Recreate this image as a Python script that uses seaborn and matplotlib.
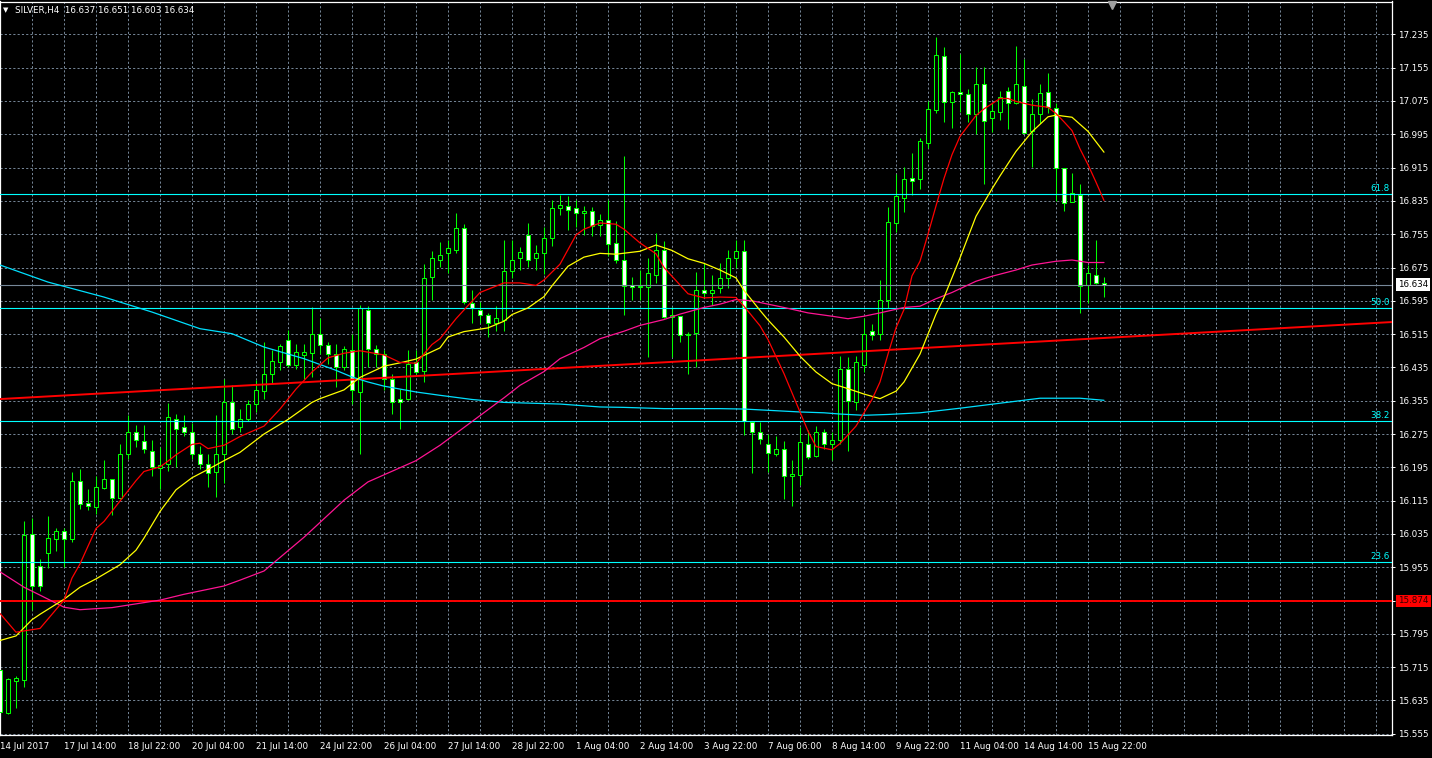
import numpy as np
import pandas as pd
import matplotlib
matplotlib.use("Agg")
import matplotlib.pyplot as plt
import seaborn as sns

# SILVER H4 candles, index 0 = 14 Jul 2017
opens = [15.707, 15.605, 15.682, 15.683, 16.034, 15.957, 15.990, 16.024, 16.042, 16.022,
         16.163, 16.110, 16.100, 16.146, 16.167, 16.122, 16.228, 16.280, 16.258, 16.234,
         16.194, 16.202, 16.312, 16.291, 16.280, 16.226, 16.204, 16.184, 16.228, 16.351,
         16.292, 16.311, 16.348, 16.379, 16.420, 16.448, 16.502, 16.442, 16.466, 16.470,
         16.515, 16.488, 16.468, 16.436, 16.478, 16.376, 16.574, 16.480, 16.468, 16.408,
         16.360, 16.360, 16.447, 16.427, 16.651, 16.694, 16.709, 16.718, 16.771, 16.590,
         16.574, 16.562, 16.542, 16.550, 16.666, 16.697, 16.753, 16.697, 16.711, 16.747,
         16.819, 16.822, 16.817, 16.806, 16.810, 16.777, 16.789, 16.733, 16.693, 16.633,
         16.627, 16.627, 16.658, 16.717, 16.556, 16.558, 16.512, 16.518, 16.620, 16.614,
         16.625, 16.649, 16.699, 16.714, 16.304, 16.280, 16.252, 16.228, 16.240, 16.174,
         16.176, 16.252, 16.222, 16.279, 16.252, 16.260, 16.430, 16.352, 16.440, 16.522,
         16.515, 16.596, 16.782, 16.843, 16.889, 16.887, 16.975, 17.053, 17.183, 17.073,
         17.096, 17.091, 17.043, 17.115, 17.033, 17.049, 17.100, 17.069, 17.112, 17.003,
         17.043, 17.096, 17.059, 16.913, 16.833, 16.849, 16.633, 16.658, 16.637]
highs = [15.712, 15.690, 15.693, 16.066, 16.074, 15.974, 16.078, 16.049, 16.049, 16.184,
         16.190, 16.144, 16.174, 16.212, 16.168, 16.252, 16.320, 16.296, 16.296, 16.260,
         16.244, 16.350, 16.324, 16.320, 16.302, 16.246, 16.226, 16.320, 16.406, 16.392,
         16.334, 16.356, 16.404, 16.496, 16.476, 16.492, 16.524, 16.492, 16.492, 16.580,
         16.553, 16.496, 16.492, 16.486, 16.516, 16.584, 16.582, 16.488, 16.476, 16.420,
         16.384, 16.478, 16.476, 16.683, 16.714, 16.737, 16.741, 16.807, 16.779, 16.620,
         16.592, 16.565, 16.582, 16.742, 16.742, 16.725, 16.783, 16.729, 16.773, 16.837,
         16.849, 16.846, 16.837, 16.822, 16.821, 16.803, 16.837, 16.787, 16.943, 16.653,
         16.670, 16.697, 16.757, 16.739, 16.580, 16.558, 16.520, 16.664, 16.685, 16.657,
         16.685, 16.717, 16.741, 16.741, 16.304, 16.304, 16.275, 16.270, 16.258, 16.212,
         16.292, 16.284, 16.294, 16.286, 16.280, 16.462, 16.460, 16.462, 16.553, 16.539,
         16.646, 16.821, 16.899, 16.917, 16.949, 16.987, 17.075, 17.229, 17.204, 17.099,
         17.188, 17.103, 17.156, 17.156, 17.071, 17.099, 17.109, 17.207, 17.175, 17.079,
         17.116, 17.143, 17.071, 16.913, 16.901, 16.875, 16.681, 16.742, 16.651]
lows = [15.599, 15.603, 15.616, 15.667, 15.853, 15.898, 15.952, 15.994, 15.956, 16.016,
        16.096, 16.092, 16.084, 16.144, 16.080, 16.118, 16.216, 16.244, 16.230, 16.174,
        16.142, 16.186, 16.196, 16.270, 16.214, 16.192, 16.148, 16.124, 16.158, 16.276,
        16.280, 16.307, 16.328, 16.358, 16.398, 16.428, 16.436, 16.432, 16.408, 16.411,
        16.468, 16.443, 16.387, 16.428, 16.348, 16.228, 16.436, 16.436, 16.380, 16.324,
        16.288, 16.356, 16.419, 16.400, 16.598, 16.677, 16.661, 16.710, 16.587, 16.541,
        16.541, 16.507, 16.523, 16.523, 16.649, 16.670, 16.677, 16.670, 16.659, 16.726,
        16.801, 16.766, 16.772, 16.753, 16.750, 16.750, 16.702, 16.686, 16.560, 16.597,
        16.597, 16.459, 16.638, 16.553, 16.459, 16.496, 16.420, 16.436, 16.604, 16.584,
        16.613, 16.625, 16.675, 16.272, 16.182, 16.252, 16.184, 16.223, 16.120, 16.102,
        16.152, 16.214, 16.220, 16.240, 16.212, 16.252, 16.234, 16.332, 16.424, 16.500,
        16.502, 16.577, 16.761, 16.809, 16.849, 16.863, 16.961, 17.047, 17.025, 17.009,
        17.049, 17.025, 16.995, 16.875, 17.001, 17.029, 17.008, 17.068, 16.997, 16.917,
        17.021, 17.045, 16.835, 16.811, 16.833, 16.565, 16.589, 16.635, 16.603]
closes = [15.607, 15.687, 15.689, 16.032, 15.909, 15.911, 16.026, 16.041, 16.024, 16.161,
          16.108, 16.103, 16.148, 16.168, 16.122, 16.228, 16.281, 16.260, 16.238, 16.195,
          16.200, 16.315, 16.288, 16.280, 16.228, 16.204, 16.182, 16.228, 16.351, 16.288,
          16.310, 16.348, 16.380, 16.420, 16.450, 16.486, 16.440, 16.471, 16.471, 16.515,
          16.488, 16.467, 16.435, 16.480, 16.380, 16.577, 16.480, 16.468, 16.408, 16.352,
          16.352, 16.444, 16.424, 16.649, 16.697, 16.706, 16.721, 16.769, 16.592, 16.577,
          16.562, 16.541, 16.553, 16.666, 16.694, 16.713, 16.693, 16.711, 16.747, 16.817,
          16.825, 16.814, 16.807, 16.810, 16.775, 16.789, 16.731, 16.694, 16.631, 16.627,
          16.630, 16.661, 16.717, 16.555, 16.560, 16.514, 16.516, 16.620, 16.613, 16.622,
          16.649, 16.699, 16.714, 16.307, 16.280, 16.262, 16.230, 16.238, 16.174, 16.178,
          16.255, 16.220, 16.280, 16.252, 16.260, 16.432, 16.355, 16.447, 16.516, 16.513,
          16.598, 16.785, 16.846, 16.887, 16.883, 16.979, 17.055, 17.185, 17.073, 17.096,
          17.091, 17.043, 17.117, 17.027, 17.051, 17.085, 17.069, 17.116, 16.999, 17.043,
          17.093, 17.060, 16.913, 16.831, 16.853, 16.630, 16.661, 16.637, 16.634]

time_labels = ["14 Jul 2017", "17 Jul 14:00", "18 Jul 22:00", "20 Jul 04:00", "21 Jul 14:00",
               "24 Jul 22:00", "26 Jul 04:00", "27 Jul 14:00", "28 Jul 22:00", "1 Aug 04:00",
               "2 Aug 14:00", "3 Aug 22:00", "7 Aug 06:00", "8 Aug 14:00", "9 Aug 22:00",
               "11 Aug 04:00", "14 Aug 14:00", "15 Aug 22:00"]

# moving averages (candle index, price)
red_ma_idx = [0, 2, 5, 8, 9, 10, 12, 13, 15, 17, 18, 20, 21, 22, 24, 25, 26, 28, 30, 33,
              35, 37, 39, 41, 43, 45, 48, 50, 52, 54, 55, 57, 60, 63, 65, 67, 68, 70, 72, 73,
              75, 77, 78, 80, 82, 83, 85, 86, 88, 90, 92, 93, 95, 96, 98, 100, 101, 102, 104, 105,
              107, 108, 109, 110, 111, 112, 113, 114, 115, 116, 117, 118, 119, 120, 122, 123, 125, 126, 127, 129,
              131, 132, 133, 134, 135, 136, 137, 138]
red_ma = [15.844, 15.799, 15.808, 15.876, 15.929, 15.963, 16.048, 16.065, 16.114, 16.163,
          16.185, 16.196, 16.210, 16.225, 16.250, 16.253, 16.240, 16.248, 16.269, 16.294,
          16.335, 16.383, 16.424, 16.458, 16.469, 16.475, 16.465, 16.447, 16.445, 16.490,
          16.504, 16.552, 16.615, 16.638, 16.638, 16.632, 16.645, 16.683, 16.753, 16.767,
          16.782, 16.779, 16.767, 16.734, 16.708, 16.675, 16.633, 16.612, 16.602, 16.604,
          16.603, 16.582, 16.535, 16.502, 16.420, 16.328, 16.282, 16.245, 16.237, 16.252,
          16.294, 16.326, 16.358, 16.400, 16.467, 16.530, 16.574, 16.655, 16.690, 16.755,
          16.823, 16.889, 16.946, 16.990, 17.040, 17.056, 17.081, 17.081, 17.074, 17.065,
          17.060, 17.045, 17.025, 17.004, 16.960, 16.922, 16.880, 16.836]

yel_idx = [0, 2, 4, 5, 8, 10, 12, 15, 17, 18, 20, 22, 24, 26, 28, 30, 33, 36, 39, 40,
           43, 45, 48, 50, 52, 53, 55, 56, 58, 61, 63, 64, 66, 68, 69, 71, 73, 75, 77, 80,
           82, 84, 86, 88, 90, 92, 93, 95, 96, 98, 100, 102, 104, 106, 108, 110, 112, 113, 115, 117,
           118, 120, 122, 124, 125, 127, 129, 131, 132, 134, 136, 138]
yel_ma = [15.779, 15.790, 15.829, 15.842, 15.878, 15.907, 15.927, 15.961, 15.996, 16.025,
          16.089, 16.141, 16.170, 16.190, 16.211, 16.231, 16.275, 16.310, 16.351, 16.360,
          16.381, 16.411, 16.438, 16.446, 16.455, 16.464, 16.482, 16.508, 16.521, 16.530,
          16.546, 16.562, 16.578, 16.605, 16.631, 16.678, 16.700, 16.709, 16.707, 16.714,
          16.729, 16.716, 16.696, 16.685, 16.669, 16.650, 16.620, 16.572, 16.549, 16.508,
          16.462, 16.424, 16.396, 16.384, 16.371, 16.360, 16.378, 16.400, 16.467, 16.563,
          16.603, 16.698, 16.798, 16.864, 16.895, 16.954, 17.001, 17.037, 17.041, 17.036,
          17.002, 16.952]

mag_idx = [0, 3, 5, 8, 10, 14, 18, 20, 23, 25, 28, 30, 33, 38, 43, 46, 48, 52, 55, 59,
           63, 65, 68, 70, 73, 75, 78, 80, 83, 85, 88, 90, 92, 94, 96, 98, 101, 104, 106, 108,
           110, 113, 115, 117, 119, 122, 124, 127, 129, 132, 134, 136, 138]
mag_ma = [15.944, 15.907, 15.888, 15.859, 15.853, 15.858, 15.870, 15.876, 15.890, 15.898,
          15.910, 15.924, 15.946, 16.027, 16.116, 16.160, 16.177, 16.211, 16.248, 16.305,
          16.362, 16.392, 16.425, 16.456, 16.483, 16.504, 16.522, 16.536, 16.550, 16.563,
          16.579, 16.587, 16.598, 16.595, 16.587, 16.579, 16.566, 16.558, 16.552, 16.558,
          16.566, 16.579, 16.582, 16.600, 16.615, 16.642, 16.654, 16.669, 16.681, 16.690,
          16.693, 16.687, 16.687]

cyan_idx = [0, 6, 13, 19, 25, 29, 33, 38, 42, 44, 46, 48, 52, 55, 59, 63, 70, 75, 78, 83,
            90, 93, 96, 100, 103, 105, 108, 111, 113, 115, 120, 125, 130, 135, 138]
cyan_ma = [16.681, 16.640, 16.604, 16.568, 16.528, 16.516, 16.484, 16.456, 16.428, 16.412,
           16.400, 16.390, 16.376, 16.368, 16.358, 16.351, 16.347, 16.340, 16.339, 16.336,
           16.336, 16.335, 16.332, 16.328, 16.326, 16.323, 16.320, 16.322, 16.324, 16.326,
           16.337, 16.349, 16.361, 16.361, 16.356]

trend_idx = [0, 174]
trend_val = [16.359, 16.544]

fib_levels = [16.851, 16.577, 16.306, 15.967]
fib_labels = ["61.8", "50.0", "38.2", "23.6"]
support_level = 15.874
last_price = 16.634

GREEN = "#00ff00"
GRID = "#778899"
FS = 6.3

sns.set_style("dark")
plt.rcParams["font.family"] = ["DejaVu Sans"]

fig = plt.figure(figsize=(14.32, 7.58), dpi=100, facecolor="black")
ax = fig.add_axes([0, 1 - 735 / 758, 1392 / 1432, 733.5 / 758])
ax.set_facecolor("black")

df = pd.DataFrame({"o": opens, "h": highs, "l": lows, "c": closes})
df["i"] = np.arange(len(df))
bull = df["c"] >= df["o"]

# grid
yticks = np.round(np.arange(15.555, 17.30, 0.08), 3)
for k in range(0, 175, 4):
    ax.axvline(k, color=GRID, lw=0.7, ls=(0, (2.2, 2.2)), zorder=0)
for v in list(yticks) + [17.315]:
    ax.axhline(v, color=GRID, lw=0.7, ls=(0, (2.2, 2.2)), zorder=0)

# candles
ax.vlines(df["i"], df["l"], df["h"], color=GREEN, lw=0.75, zorder=2)
ax.bar(df["i"], (df["c"] - df["o"]).abs().clip(lower=0.0008),
       bottom=df[["o", "c"]].min(axis=1), width=0.56,
       color=np.where(bull, "black", "white"), edgecolor=GREEN, linewidth=0.75, zorder=3)

# objects
for lvl, lab in zip(fib_levels, fib_labels):
    ax.axhline(lvl, color="#00ffff", lw=0.8, zorder=4)
    ax.text(173.75, lvl + 0.003, lab, color="#00ffff", fontsize=FS, ha="right", va="bottom", zorder=6)
ax.axhline(support_level, color="#ff0000", lw=1.4, zorder=4)
ax.axhline(last_price, color=GRID, lw=0.8, zorder=4)
ax.plot(trend_idx, trend_val, color="#ff0000", lw=1.4, zorder=4)

# indicators
sns.lineplot(x=cyan_idx, y=cyan_ma, ax=ax, color="#00e0ff", lw=0.9, zorder=5)
sns.lineplot(x=mag_idx, y=mag_ma, ax=ax, color="#ff1493", lw=0.9, zorder=5)
sns.lineplot(x=yel_idx, y=yel_ma, ax=ax, color="#ffff00", lw=0.9, zorder=5)
sns.lineplot(x=red_ma_idx, y=red_ma, ax=ax, color="#ff0000", lw=0.9, zorder=5)

ax.set_xlim(0, 174)
ax.set_ylim(15.552, 17.314)

ax.yaxis.tick_right()
ax.set_yticks(yticks)
ax.set_yticklabels([f"{v:.3f}" for v in yticks])
ax.set_xticks(np.arange(0, 8 * len(time_labels), 8))
ax.set_xticklabels(time_labels)
for lab in ax.get_xticklabels():
    lab.set_horizontalalignment("left")
ax.tick_params(axis="both", colors="white", labelsize=FS, length=3, width=0.7, pad=1.5)
ax.tick_params(axis="x", pad=2)
ax.tick_params(axis="y", length=2.5)
ax.set_xlabel("")
ax.set_ylabel("")
ax.grid(False)
for s in ax.spines.values():
    s.set_color("white")
    s.set_linewidth(0.9)

# price boxes on the scale
yax = ax.get_yaxis_transform()
ax.text(1.0045, last_price, f"{last_price:.3f}", transform=yax, fontsize=FS, color="black",
        ha="left", va="center", bbox=dict(boxstyle="square,pad=0.22", fc="white", ec="none"),
        clip_on=False, zorder=10)
ax.text(1.0045, support_level, f"{support_level:.3f}", transform=yax, fontsize=FS, color="#300000",
        ha="left", va="center", bbox=dict(boxstyle="square,pad=0.22", fc="#ff0000", ec="none"),
        clip_on=False, zorder=10)

# shift marker
ax.plot([139], [17.305], marker="v", color="#a0a0a0", ms=6, clip_on=False, zorder=10)

fig.text(3 / 1432, 1 - 10 / 758, "\u25bc", color="white", fontsize=5, va="center", ha="left")
fig.text(15 / 1432, 1 - 10 / 758, "SILVER,H4  16.637 16.651 16.603 16.634",
         color="white", fontsize=FS, va="center", ha="left")

fig.savefig("out.png", dpi=100, facecolor="black")
